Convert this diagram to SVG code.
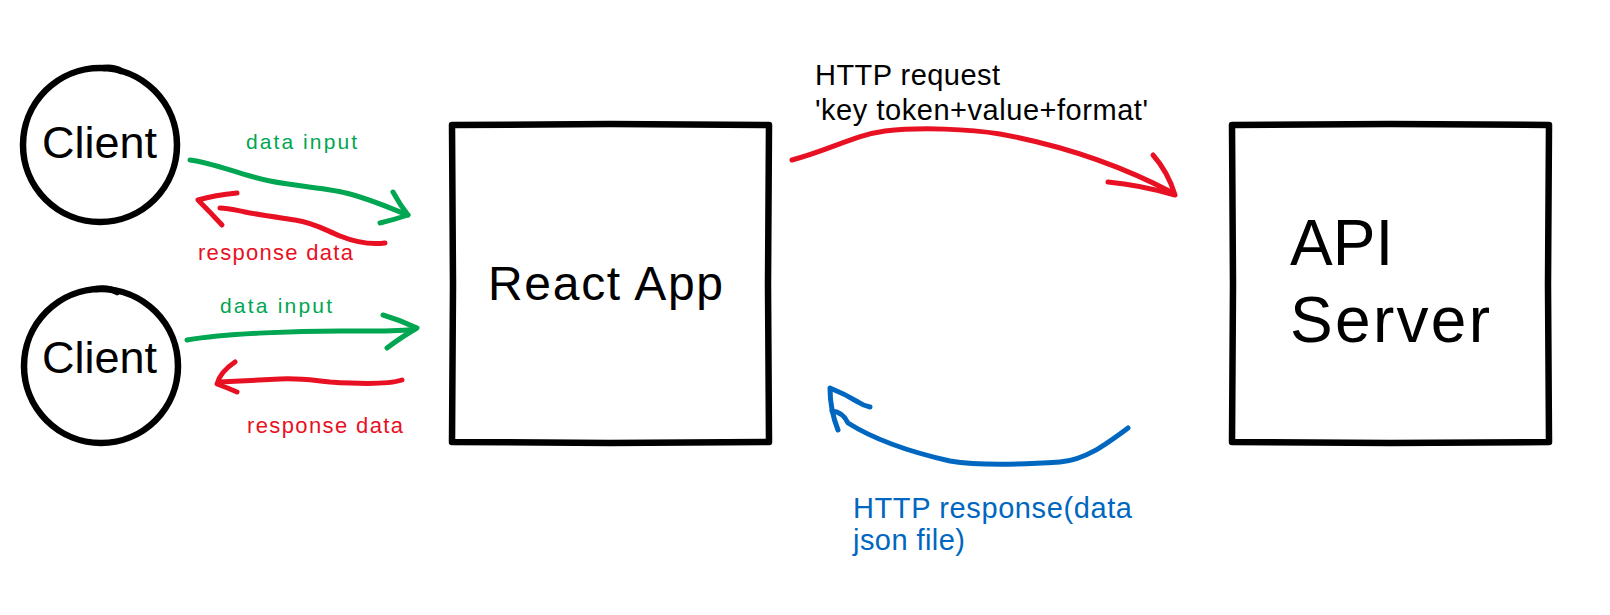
<svg xmlns="http://www.w3.org/2000/svg" width="1610" height="615" viewBox="0 0 1610 615">
  <style>
    .hand { font-family: "Liberation Sans", Arial, sans-serif; }
    .node { fill: none; stroke: #000; stroke-width: 6.5; stroke-linecap: round; stroke-linejoin: round; }
    .lbl-black { fill: #000; }
    .g { fill: none; stroke: #00A651; stroke-width: 5; stroke-linecap: round; stroke-linejoin: round; }
    .r { fill: none; stroke: #E81123; stroke-width: 5; stroke-linecap: round; stroke-linejoin: round; }
    .b { fill: none; stroke: #0067C0; stroke-width: 5; stroke-linecap: round; stroke-linejoin: round; }
    .tg { fill: #00A651; }
    .tr { fill: #E81123; }
    .tb { fill: #0067C0; }
  </style>
  <rect width="1610" height="615" fill="#fff"/>

  <g id="client1">
    <circle class="node" cx="100" cy="145" r="77"/>
    <path class="node" d="M104 68 Q 114 67 121 71" stroke-width="8"/>
    <text class="hand lbl-black" x="42" y="158" font-size="45" textLength="115">Client</text>
  </g>

  <g id="client2">
    <circle class="node" cx="101" cy="366" r="77"/>
    <path class="node" d="M96 289 Q 108 287 117 292" stroke-width="8"/>
    <text class="hand lbl-black" x="42" y="373" font-size="45" textLength="115">Client</text>
  </g>

  <g id="react-app">
    <path class="node" d="M452 125 L610 124 L769 125 L768 285 L769 442 L610 443 L452 442 L453 285 Z"/>
    <text class="hand lbl-black" x="488" y="300" font-size="48" textLength="235">React App</text>
  </g>

  <g id="api-server">
    <path class="node" d="M1232 125 L1390 124 L1549 125 L1548 285 L1549 442 L1390 443 L1232 442 L1233 285 Z"/>
    <text class="hand lbl-black" x="1290" y="265" font-size="64">API</text>
    <text class="hand lbl-black" x="1290" y="342" font-size="64" textLength="200">Server</text>
  </g>

  <g id="connectors">
    <!-- client1 data input -->
    <path class="g" d="M190 160 C 215 163, 240 175, 270 181 C 300 187, 330 188, 350 194 C 372 200, 390 208, 408 215"/>
    <path class="g" d="M393 192 Q 400 205 408 215 Q 393 220 380 223"/>
    <!-- client1 response data -->
    <path class="r" d="M385 243 C 370 245, 355 242, 340 236 C 325 230, 315 223, 295 220 C 275 217, 260 215, 245 212 C 235 210, 228 208, 220 208"/>
    <path class="r" d="M237 193 Q 215 195 198 200 Q 210 212 222 225"/>
    <!-- client2 data input -->
    <path class="g" d="M187 340 C 230 333, 300 331, 340 331 C 370 331, 400 332, 415 329"/>
    <path class="g" d="M383 315 Q 400 320 417 328 Q 400 338 387 348"/>
    <!-- client2 response data -->
    <path class="r" d="M402 380 C 390 384, 360 384, 330 382 C 310 380, 300 378, 280 379 C 260 380, 240 381, 219 382"/>
    <path class="r" d="M235 362 Q 220 372 217 384 Q 228 388 237 392"/>
    <!-- HTTP request -->
    <path class="r" d="M792 160 C 830 150, 855 135, 885 131 C 920 127, 970 129, 1000 134 C 1060 145, 1120 165, 1173 193"/>
    <path class="r" d="M1153 155 Q 1168 172 1175 195 Q 1140 185 1108 182"/>
    <!-- HTTP response -->
    <path class="b" d="M1128 428 C 1105 445, 1085 460, 1060 462 C 1030 464, 980 466, 950 461 C 910 452, 875 440, 848 423 Q 843 412 832 411"/>
    <path class="b" d="M838 430 Q 830 410 830 388 Q 845 394 858 402 Q 864 406 870 407"/>
  </g>

  <g id="labels">
    <text class="hand tg" x="246" y="149" font-size="21" textLength="111">data input</text>
    <text class="hand tr" x="198" y="260" font-size="22" textLength="155">response data</text>
    <text class="hand tg" x="220" y="313" font-size="21" textLength="112">data input</text>
    <text class="hand tr" x="247" y="433" font-size="22" textLength="156">response data</text>
    <text class="hand lbl-black" x="815" y="85" font-size="29" textLength="185">HTTP request</text>
    <text class="hand lbl-black" x="815" y="120" font-size="29" textLength="333">'key token+value+format'</text>
    <text class="hand tb" x="853" y="518" font-size="29" textLength="279">HTTP response(data</text>
    <text class="hand tb" x="853" y="550" font-size="29" textLength="112">json file)</text>
  </g>
</svg>
